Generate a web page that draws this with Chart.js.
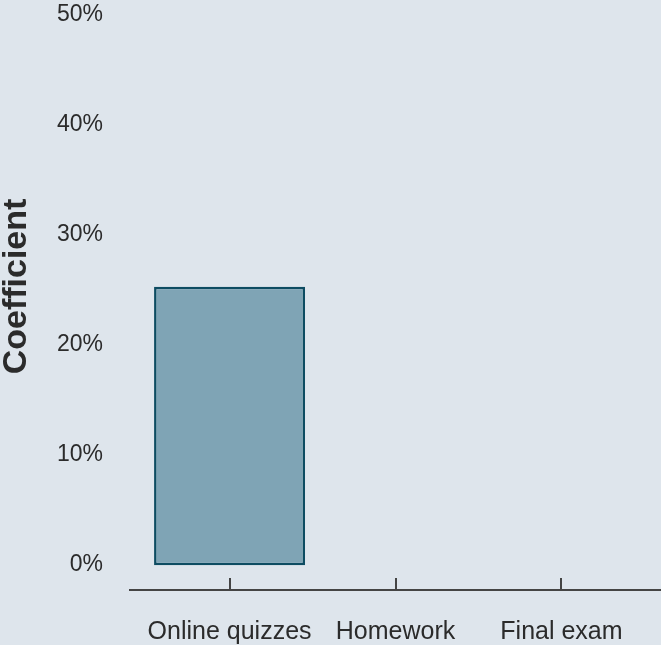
<!DOCTYPE html>
<html>
<head>
<meta charset="utf-8">
<script src="https://cdn.jsdelivr.net/npm/chart.js@4"></script>
<style>
  html, body { margin: 0; padding: 0; background: #dee5ec; }
  .chart { width: 661px; height: 645px; position: relative; }
</style>
</head>
<body>
<div class="chart"><canvas></canvas></div>
<script>
const categories = ["Online quizzes", "Homework", "Final exam"];
const coefficients = [25.3, null, null];
const yTicks = [0, 10, 20, 30, 40, 50];
const yTitle = "Coefficient";

const textColor = "#2b2b2b";
const axisColor = "#444444";
const family = "'Liberation Sans', Arial, sans-serif";

// rotated axis title, sits a bit above the centre of the axis
const yTitlePlugin = {
  id: "yTitlePlugin",
  afterDraw(chart) {
    const ctx = chart.ctx;
    const s = chart.scales.y;
    ctx.save();
    ctx.translate(17, (s.top + s.bottom) / 2 - 16);
    ctx.rotate(-Math.PI / 2);
    ctx.font = "bold 34px " + family;
    ctx.fillStyle = textColor;
    ctx.textAlign = "center";
    ctx.textBaseline = "middle";
    ctx.fillText(yTitle, 0, 0);
    ctx.restore();
  },
};

const ctx = document.querySelector(".chart canvas").getContext("2d");

new Chart(ctx, {
  type: "bar",
  data: {
    datasets: [
      {
        data: coefficients.map((v, i) => ({ x: i, y: v })),
        backgroundColor: "#7fa4b5",
        borderColor: "#0d4c62",
        borderWidth: 2.5,
        borderSkipped: false,
        categoryPercentage: 1,
        barPercentage: 0.91,
      },
    ],
  },
  options: {
    animation: false,
    responsive: true,
    maintainAspectRatio: false,
    layout: { padding: 0 },
    plugins: {
      legend: { display: false },
      tooltip: { enabled: false },
    },
    scales: {
      x: {
        type: "linear",
        offset: false,
        min: -0.6,
        max: 2.6,
        afterBuildTicks: (scale) => {
          scale.ticks = categories.map((c, i) => ({ value: i }));
        },
        afterFit: (scale) => {
          scale.height = 55;
          scale.paddingLeft = 0;
          scale.paddingRight = 0;
        },
        grid: {
          offset: false,
          drawOnChartArea: false,
          drawTicks: true,
          tickLength: -12,
          color: axisColor,
          lineWidth: 2,
        },
        border: { display: true, color: axisColor, width: 2 },
        ticks: {
          autoSkip: false,
          maxRotation: 0,
          padding: 39,
          color: textColor,
          font: { family: family, size: 25 },
          callback: (v) => categories[v],
        },
      },
      y: {
        min: -2.26,
        max: 50,
        afterBuildTicks: (scale) => {
          scale.ticks = yTicks.map((v) => ({ value: v }));
        },
        afterFit: (scale) => {
          scale.width = 130;
          scale.paddingTop = 15;
          scale.paddingBottom = 0;
        },
        grid: { display: false },
        border: { display: false },
        ticks: {
          padding: 19,
          color: textColor,
          font: { family: family, size: 23 },
          callback: (v) => v + "%",
        },
      },
    },
  },
  plugins: [yTitlePlugin],
});
</script>
</body>
</html>
